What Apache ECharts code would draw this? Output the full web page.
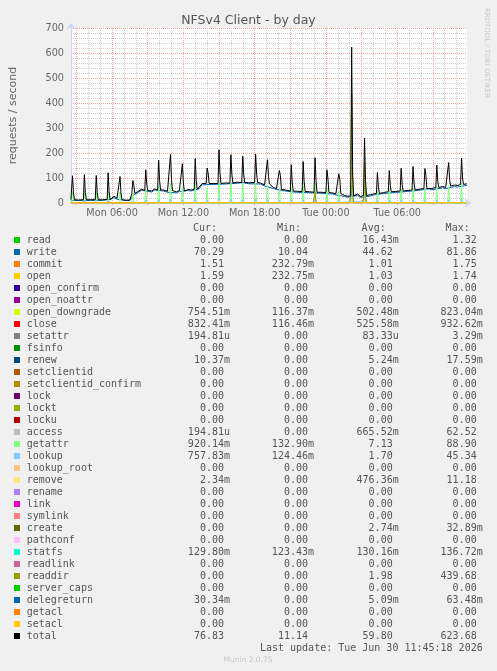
<!DOCTYPE html>
<html>
<head>
<meta charset="utf-8">
<script src="https://cdn.jsdelivr.net/npm/echarts@6/dist/echarts.min.js"></script>
<style>html,body{margin:0;padding:0;background:#F0F0F0;}#c{width:497px;height:671px;}</style>
</head>
<body>
<div id="c"></div>
<script>
// ---- time axis (minutes since Mon 00:00) ----
const xMin = 152.5, xMax = 2152.5;
const tickLabelMins = [360, 720, 1080, 1440, 1800];
const tickLabels = ['Mon 06:00', 'Mon 12:00', 'Mon 18:00', 'Tue 00:00', 'Tue 06:00'];

// ---- hourly spikes ----
const spikeMin   = [160,220,280,340,400,465,530,595,655,715,780,840,900,960,1020,1085,1145,1205,1265,1325,1385,1445,1505,1570,1635,1700,1760,1820,1880,1940,2000,2060,2125];
const totalPeak  = [109,113,110,121,106,90,133,171,194,157,178,140,213,193,187,195,173,130,153,166,181,133,117,623.68,259,122,130,139,146,138,152,162,180];
const totalFoot  = [13,13,13,14,13,38,50,52,50,48,55,78,78,80,82,82,76,55,48,46,43,42,38,28,30,38,45,48,52,58,62,68,74];
const totalDecay = [40,42,41,45,40,70,75,90,95,80,90,120,120,115,112,115,105,110,80,85,90,100,95,120,90,65,70,75,80,110,85,90,100];
const totalMid   = [[152,13],[190,12],[250,13],[310,13],[355,19],[370,27],[385,19],[430,11.2],[450,12],[490,46],[510,55],[560,48],[575,56],[620,52],[640,47],[685,45],[700,50],[745,54],[760,52],[800,62],[815,78],[870,78],[930,80],[990,83],[1050,81],[1110,80],[1130,72],[1175,62],[1190,58],[1235,52],[1290,47],[1355,45],[1415,43],[1475,40],[1490,36],[1535,30],[1550,27],[1600,36],[1615,26],[1665,33],[1680,36],[1730,42],[1790,46],[1850,50],[1910,55],[1960,62],[1975,58],[2030,66],[2045,62],[2090,72],[2105,70],[2140,75],[2152,76.83]];

const writeLine = [[152,10.5],[190,10.2],[250,10.4],[310,10.3],[355,15],[370,22],[385,15],[430,10.04],[450,10.1],[470,33],[490,42],[510,51],[560,44],[575,52],[620,48],[640,43],[685,41],[700,46],[745,50],[760,48],[800,57],[815,73],[870,74],[930,76],[990,79],[1020,81.86],[1050,77],[1110,76],[1130,68],[1175,58],[1190,54],[1235,48],[1290,43],[1355,41],[1415,39],[1475,36],[1490,32],[1535,26],[1550,23],[1600,30],[1615,22],[1665,28],[1680,32],[1730,38],[1790,42],[1850,46],[1910,51],[1960,57],[1975,53],[2030,61],[2045,57],[2090,66],[2105,64],[2140,69],[2152,70.29]];

const getattrPeak = [45,48,46,50,44,38,55,70,80,65,74,58,88.9,80,77,81,72,54,63,69,75,55,48,72,70,50,54,58,61,57,63,67,75];
const getattrFoot = [1,1,1,1,1,1.2,1.1,1,1,1,1.1,1.2,1.1,1,1,1,1.1,1,1,1,0.9,0.9,0.9,0.9,1,1,1,1,1,1,1,1,0.9];
const getattrLine = [[152,1],[2152,0.92]];

const lookupPeak = [8,9,8,10,8,7,11,14,16,13,15,12,18,16,15,16,14,11,13,14,15,11,10,45.34,22,10,11,12,12,11,13,13,15];
const lookupFoot = [0.8,0.8,0.8,0.8,0.8,0.8,0.8,0.8,0.8,0.8,0.8,0.8,0.8,0.8,0.8,0.8,0.8,0.8,0.8,0.8,0.8,0.8,0.8,5,0.8,0.8,0.8,0.8,0.8,0.8,0.8,0.8,0.8];
const lookupLine = [[152,0.8],[1512,4],[1560,5],[1580,5],[1620,4.5],[1626,0.8],[2152,0.76]];

const accessPeak = [3,3,3,4,3,3,4,5,6,5,5,4,7,6,6,6,5,4,5,5,6,4,3,62.52,30,4,4,4,5,4,5,5,6];
const accessFoot = [0,0,0,0,0,0,0,0,0,0,0,0,0,0,0,0,0,0,0,0,0,0,0,0,0,0,0,0,0,0,0,0,0];
const accessLine = [[152,0],[2152,0]];

const readdirLine = [[152,0],[1375,0],[1380,20],[1385,45],[1390,0],[1560,0],[1565,30],[1570,439.68],[1575,60],[1580,0],[1625,0],[1630,20],[1635,160],[1640,25],[1645,0],[2152,0]];
const removeLine = [[152,0.3],[590,0.3],[595,6],[600,0.3],[895,0.3],[900,11.18],[905,0.3],[1080,0.3],[1085,7],[1090,0.3],[1380,0.3],[1385,8],[1390,0.3],[1565,0.3],[1570,10],[1575,0.3],[1630,0.3],[1635,9],[1640,0.3],[1815,0.3],[1820,6],[1825,0.3],[1995,0.3],[2000,5],[2005,0],[2152,0]];
const commitLine = [[152,0.5],[300,0.4],[450,0.25],[480,1.1],[700,1.2],[820,1.6],[1100,1.75],[1200,1.3],[1500,0.9],[1700,1.0],[1900,1.3],[2152,1.51]];
const openLine   = [[152,0.5],[300,0.4],[450,0.25],[480,1.1],[700,1.2],[820,1.6],[1100,1.74],[1200,1.3],[1500,0.9],[1700,1.0],[1900,1.3],[2152,1.59]];

// ---- legend table ----
const fieldNames = ['read','write','commit','open','open_confirm','open_noattr','open_downgrade','close','setattr','fsinfo','renew','setclientid','setclientid_confirm','lock','lockt','locku','access','getattr','lookup','lookup_root','remove','rename','link','symlink','create','pathconf','statfs','readlink','readdir','server_caps','delegreturn','getacl','setacl','total'];
const fieldColors = ['#00CC00','#0066B3','#FF8000','#FFCC00','#330099','#990099','#CCFF00','#FF0000','#808080','#008F00','#00487D','#B35A00','#B38F00','#6B006B','#8FB300','#B30000','#BEBEBE','#80FF80','#80C9FF','#FFC080','#FFE680','#AA80FF','#EE00CC','#FF8080','#666600','#FFBFFF','#00FFCC','#CC6699','#999900','#00CC00','#0066B3','#FF8000','#FFCC00','#000000'];
const curVals = ['0.00','70.29','1.51','1.59','0.00','0.00','754.51m','832.41m','194.81u','0.00','10.37m','0.00','0.00','0.00','0.00','0.00','194.81u','920.14m','757.83m','0.00','2.34m','0.00','0.00','0.00','0.00','0.00','129.80m','0.00','0.00','0.00','30.34m','0.00','0.00','76.83'];
const minVals = ['0.00','10.04','232.79m','232.75m','0.00','0.00','116.37m','116.46m','0.00','0.00','0.00','0.00','0.00','0.00','0.00','0.00','0.00','132.90m','124.46m','0.00','0.00','0.00','0.00','0.00','0.00','0.00','123.43m','0.00','0.00','0.00','0.00','0.00','0.00','11.14'];
const avgVals = ['16.43m','44.62','1.01','1.03','0.00','0.00','502.48m','525.58m','83.33u','0.00','5.24m','0.00','0.00','0.00','0.00','0.00','665.52m','7.13','1.70','0.00','476.36m','0.00','0.00','0.00','2.74m','0.00','130.16m','0.00','1.98','0.00','5.09m','0.00','0.00','59.80'];
const maxVals = ['1.32','81.86','1.75','1.74','0.00','0.00','823.04m','932.62m','3.29m','0.00','17.59m','0.00','0.00','0.00','0.00','0.00','62.52','88.90','45.34','0.00','11.18','0.00','0.00','0.00','32.89m','0.00','136.72m','0.00','439.68','0.00','63.48m','0.00','0.00','623.68'];
const colHeaders = ['Cur:','Min:','Avg:','Max:'];

// ---- build ----
function spikes(times, peaks, feet) {
  const out = [];
  times.forEach((t, i) => { out.push([t - 5, feet[i]], [t, peaks[i]], [t + 5, feet[i]]); });
  return out;
}
function spikesDecay(times, peaks, feet, decay) {
  const out = [];
  times.forEach((t, i) => { out.push([t - 5, feet[i]], [t, peaks[i]], [t + 5, decay[i]], [t + 10, feet[i]]); });
  return out;
}
function merged(a, b) { return a.concat(b).sort((p, q) => p[0] - q[0]); }

const totalData = merged(totalMid, spikesDecay(spikeMin, totalPeak, totalFoot, totalDecay));
const getattrData = merged(getattrLine, spikes(spikeMin, getattrPeak, getattrFoot));
const lookupData = merged(lookupLine, spikes(spikeMin, lookupPeak, lookupFoot));
const accessData = merged(accessLine, spikes(spikeMin, accessPeak, accessFoot));

function lineSeries(name, data, color, z) {
  return { name, type: 'line', data, showSymbol: false, symbol: 'none', silent: true,
    lineStyle: { color, width: 1 }, z: z || 2, animation: false };
}

const RED = '#F4A4A4', GRAY = '#CDCDCD';
const gridLines = [];
for (let m = 180; m < xMax; m += 60) {
  gridLines.push({ xAxis: m, lineStyle: { color: m % 180 === 0 ? RED : GRAY, type: [1, 1], width: 1 } });
}
for (let v = 20; v < 700; v += 20) {
  if (v % 100 !== 0) gridLines.push({ yAxis: v, lineStyle: { color: GRAY, type: [1, 1], width: 1 } });
}
const majorTicks = [];
for (let m = 180; m < xMax; m += 180) majorTicks.push(m);

const FONT = 'DejaVu Sans';
const MONO = '"DejaVu Sans Mono"';
const TXT = '#555';
const graphics = [];
const colEdges = [230, 314, 398.7, 482.7];
colHeaders.forEach((h, j) => {
  graphics.push({ type: 'text', x: colEdges[j] - 13, y: 228, silent: true,
    style: { text: h, font: '10px ' + MONO, fill: TXT, textAlign: 'right', textVerticalAlign: 'middle' } });
});
fieldNames.forEach((name, i) => {
  const y = 240 + 12 * i;
  graphics.push({ type: 'rect', silent: true, shape: { x: 14, y: y - 3, width: 6, height: 6 }, style: { fill: fieldColors[i] } });
  graphics.push({ type: 'text', x: 26.7, y: y, silent: true,
    style: { text: name, font: '10px ' + MONO, fill: TXT, textVerticalAlign: 'middle' } });
  [curVals[i], minVals[i], avgVals[i], maxVals[i]].forEach((v, j) => {
    const edge = /[0-9]$/.test(v) ? colEdges[j] - 6 : colEdges[j];
    graphics.push({ type: 'text', x: edge, y: y, silent: true,
      style: { text: v, font: '10px ' + MONO, fill: TXT, textAlign: 'right', textVerticalAlign: 'middle' } });
  });
});
graphics.push({ type: 'text', x: 482.7, y: 648, silent: true,
  style: { text: 'Last update: Tue Jun 30 11:45:18 2026', font: '10px ' + MONO, fill: TXT, textAlign: 'right', textVerticalAlign: 'middle' } });
graphics.push({ type: 'text', x: 248, y: 660, silent: true,
  style: { text: 'Munin 2.0.75', font: '7.5px "DejaVu Sans"', fill: '#C8C8C8', textAlign: 'center', textVerticalAlign: 'middle' } });
graphics.push({ type: 'text', x: 487, y: 53, rotation: -Math.PI / 2, silent: true,
  style: { text: 'RRDTOOL / TOBI OETIKER', font: '7px "DejaVu Sans"', fill: '#C8C8C8', textAlign: 'center', textVerticalAlign: 'middle' } });

const chart = echarts.init(document.getElementById('c'), null, { renderer: 'canvas' });
chart.setOption({
  animation: false,
  backgroundColor: '#F0F0F0',
  title: { text: 'NFSv4 Client - by day', left: 'center', top: 9,
    textStyle: { fontFamily: FONT, fontSize: 12.5, fontWeight: 'normal', color: '#555' } },
  grid: { left: 67, top: 28, width: 400, height: 175, show: true, backgroundColor: '#FFFFFF', borderWidth: 0 },
  xAxis: {
    type: 'value', min: xMin, max: xMax,
    axisLine: { show: true, onZero: false, lineStyle: { color: '#CFD6F8' }, symbol: ['none', 'arrow'], symbolSize: [7, 6], symbolOffset: [0, 4] },
    axisTick: { show: true, customValues: majorTicks, length: 2, lineStyle: { color: RED } },
    axisLabel: { customValues: tickLabelMins, margin: 5, color: '#666', fontFamily: FONT, fontSize: 9.7,
      formatter: v => tickLabels[tickLabelMins.indexOf(v)] || '' },
    splitLine: { show: false }
  },
  yAxis: {
    type: 'value', min: 0, max: 700, interval: 100,
    name: 'requests / second', nameLocation: 'middle', nameRotate: 90, nameGap: 52,
    nameTextStyle: { fontFamily: FONT, fontSize: 11, color: '#666' },
    axisLine: { show: true, lineStyle: { color: '#CFD6F8' }, symbol: ['none', 'arrow'], symbolSize: [7, 6], symbolOffset: [0, 5] },
    axisTick: { show: false },
    axisLabel: { margin: 7, color: '#666', fontFamily: FONT, fontSize: 9.7 },
    splitLine: { show: true, lineStyle: { color: RED, type: [1, 1] } }
  },
  graphic: graphics,
  series: [
    { type: 'line', data: [[xMin, 0]], symbol: 'none', lineStyle: { opacity: 0 }, silent: true, z: 1,
      markLine: { z: 1, silent: true, symbol: ['none', 'none'], label: { show: false }, animation: false, data: gridLines } },
    lineSeries('write', writeLine, '#0066B3'),
    lineSeries('access', accessData, '#BEBEBE'),
    lineSeries('getattr', getattrData, '#80FF80'),
    lineSeries('lookup', lookupData, '#80C9FF'),
    lineSeries('remove', removeLine, '#FFE680'),
    lineSeries('readdir', readdirLine, '#999900'),
    lineSeries('commit', commitLine, '#FF8000'),
    lineSeries('open', openLine, '#FFCC00'),
    lineSeries('total', totalData, '#000000')
  ]
});
</script>
</body>
</html>
